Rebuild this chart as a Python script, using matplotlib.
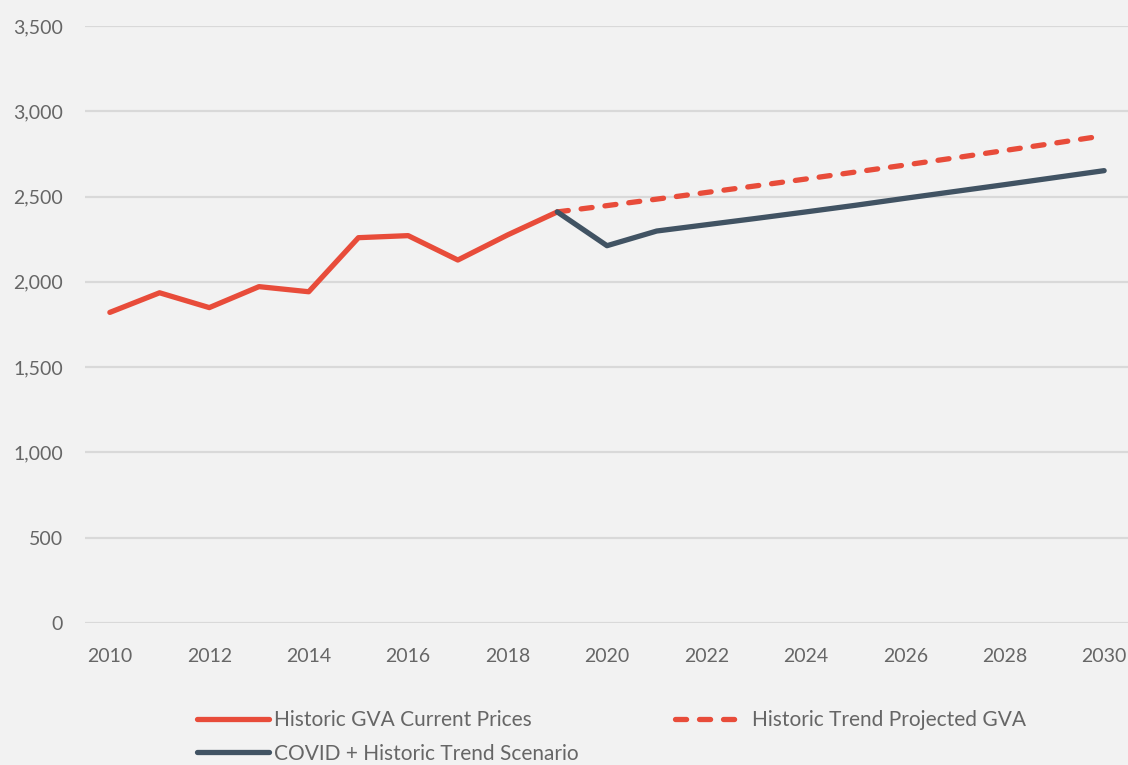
import matplotlib
matplotlib.use("Agg")
import matplotlib.pyplot as plt
from matplotlib.ticker import FuncFormatter, MultipleLocator

# ---- data ----
hist_years = [2010, 2011, 2012, 2013, 2014, 2015, 2016, 2017, 2018, 2019]
hist_gva = [1821, 1936, 1849, 1972, 1942, 2259, 2271, 2128, 2275, 2410]

proj_years = [2019, 2020, 2021, 2022, 2023, 2024, 2025, 2026, 2027, 2028, 2029, 2030]
trend_gva = [2410, 2447, 2485, 2524, 2563, 2603, 2644, 2685, 2727, 2770, 2813, 2857]
covid_gva = [2410, 2212, 2298, 2335, 2372, 2410, 2449, 2490, 2530, 2570, 2611, 2652]

labels = ["Historic GVA Current Prices", "COVID + Historic Trend Scenario",
          "Historic Trend Projected GVA"]
x_ticks = list(range(2010, 2031, 2))

RED = "#E84C3A"
GREY = "#415363"
BG = "#F2F2F2"
TXT = "#666666"

plt.rcParams['font.family'] = ['Lato', 'DejaVu Sans']

fig = plt.figure(figsize=(11.28, 7.65), dpi=100, facecolor=BG)
ax = fig.add_axes([85/1128, 1 - 623/765, 1 - 85/1128, (623 - 26)/765])
ax.set_facecolor(BG)

l_hist, = ax.plot(hist_years, hist_gva, color=RED, lw=3.8, solid_capstyle='round',
                  solid_joinstyle='round', zorder=3)
l_trend, = ax.plot(proj_years, trend_gva, color=RED, lw=3.8, ls=(0, (2.1, 2.45)),
                   dash_capstyle='round', zorder=2)
l_covid, = ax.plot(proj_years, covid_gva, color=GREY, lw=3.8, solid_capstyle='round',
                   solid_joinstyle='round', zorder=4)

ax.set_ylim(0, 3500)
ax.set_xlim(2009.5, 2030.48)
ax.yaxis.set_major_locator(MultipleLocator(500))
ax.yaxis.set_major_formatter(FuncFormatter(lambda v, p: f"{int(v):,}"))
ax.set_xticks(x_ticks)
ax.set_xticklabels([str(t) for t in x_ticks])
ax.grid(axis='y', color='#D9D9D9', lw=1.6)
ax.set_axisbelow(True)
for s in ax.spines.values():
    s.set_visible(False)
ax.tick_params(axis='both', length=0, labelsize=14, labelcolor=TXT)
ax.tick_params(axis='x', pad=18)
ax.tick_params(axis='y', pad=16)
for ln in (l_hist, l_trend, l_covid):
    ln.set_clip_on(False)

leg = fig.legend([l_hist, l_covid, l_trend], labels, ncol=2, loc='upper left',
                 bbox_to_anchor=(197/1128, 1 - 710/765), frameon=False,
                 fontsize=15, handlelength=3.45, handletextpad=0.25,
                 columnspacing=4.6, labelspacing=0.65, borderpad=0,
                 borderaxespad=0)
for t in leg.get_texts():
    t.set_color(TXT)

fig.savefig("out.png", dpi=100, facecolor=BG)
